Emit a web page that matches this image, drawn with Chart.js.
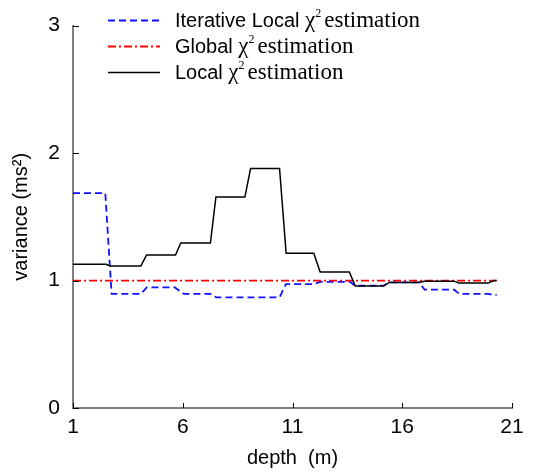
<!DOCTYPE html>
<html>
<head>
<meta charset="utf-8">
<script src="https://cdn.jsdelivr.net/npm/chart.js@4/dist/chart.umd.min.js"></script>
<style>
  body { margin: 0; background: #ffffff; }
  canvas { display: block; }
</style>
</head>
<body>
<canvas id="myChart" width="552" height="476"></canvas>
<script>
// depth ticks and variance ticks
var depthTicks = [1, 6, 11, 16, 21];
var varianceTicks = [0, 1, 2, 3];

// iterative local chi2 estimation (blue dashed)
var iterDepth = [1, 2.47, 2.76, 4.09, 4.36, 5.64, 6.05, 7.26, 7.53, 10.41, 10.7, 11.97, 12.26, 13.62, 13.85, 15.15, 15.41, 16.77, 17.02, 18.36, 18.6, 19.91, 20.18, 20.3];
var iterVar = [1.686, 1.686, 0.895, 0.895, 0.946, 0.946, 0.895, 0.895, 0.868, 0.868, 0.972, 0.972, 0.99, 0.99, 0.96, 0.96, 0.985, 0.985, 0.928, 0.928, 0.895, 0.895, 0.887, 0.887];

// global chi2 estimation (red dash-dot)
var globalDepth = [1, 20.3];
var globalVar = [1.0, 1.0];

// local chi2 estimation (black solid)
var localDepth = [1, 2.5, 2.7, 4.09, 4.35, 5.67, 5.91, 7.26, 7.51, 8.83, 9.09, 10.41, 10.71, 11.97, 12.26, 13.59, 13.86, 15.15, 15.41, 16.77, 17.0, 18.36, 18.59, 19.91, 20.18, 20.3];
var localVar = [1.127, 1.127, 1.114, 1.114, 1.20, 1.20, 1.294, 1.294, 1.655, 1.655, 1.879, 1.879, 1.214, 1.214, 1.067, 1.067, 0.957, 0.957, 0.985, 0.985, 0.995, 0.995, 0.98, 0.98, 1.0, 1.0];

function pts(xs, ys) {
  var out = [];
  for (var i = 0; i < xs.length; i++) out.push({x: xs[i], y: ys[i]});
  return out;
}

// short ticks pointing into the plot
var innerTicks = {
  id: 'innerTicks',
  afterDatasetsDraw: function(chart) {
    var ctx = chart.ctx;
    var a = chart.chartArea;
    var xs = chart.scales.x, ys = chart.scales.y;
    ctx.save();
    ctx.strokeStyle = '#000000';
    ctx.lineWidth = 1;
    ctx.beginPath();
    xs.ticks.forEach(function(t) {
      var px = Math.round(xs.getPixelForValue(t.value)) + 0.5;
      ctx.moveTo(px, a.bottom);
      ctx.lineTo(px, a.bottom - 5);
    });
    ys.ticks.forEach(function(t) {
      var py = Math.round(ys.getPixelForValue(t.value)) + 0.5;
      ctx.moveTo(a.left, py);
      ctx.lineTo(a.left + 6, py);
    });
    ctx.stroke();
    ctx.restore();
  }
};

// legend with mixed sans / serif text and a superscript
var chiLegend = {
  id: 'chiLegend',
  afterDraw: function(chart) {
    var ctx = chart.ctx;
    var rows = [
      {ds: 0, pre: 'Iterative Local ', y: 20},
      {ds: 1, pre: 'Global ', y: 46},
      {ds: 2, pre: 'Local ', y: 72}
    ];
    ctx.save();
    rows.forEach(function(r) {
      var d = chart.data.datasets[r.ds];
      ctx.strokeStyle = d.borderColor;
      ctx.lineWidth = d.borderWidth;
      ctx.setLineDash(d.borderDash || []);
      ctx.beginPath();
      ctx.moveTo(108, r.y + 0.5);
      ctx.lineTo(160, r.y + 0.5);
      ctx.stroke();
      ctx.setLineDash([]);

      var x = 175;
      ctx.fillStyle = '#000000';
      ctx.textBaseline = 'alphabetic';
      ctx.font = '20px "Liberation Sans", Arial, sans-serif';
      ctx.fillText(r.pre, x, r.y + 7);
      x += ctx.measureText(r.pre).width;
      ctx.font = '23px "Liberation Serif", "Times New Roman", serif';
      ctx.fillText('\u03c7', x, r.y + 7);
      x += ctx.measureText('\u03c7').width;
      ctx.font = '12px "Liberation Serif", "Times New Roman", serif';
      ctx.fillText('2', x, r.y - 3);
      x += ctx.measureText('2').width + 3;
      ctx.font = '23px "Liberation Serif", "Times New Roman", serif';
      ctx.fillText('estimation', x, r.y + 7);
    });
    ctx.restore();
  }
};

function one() {
  var ctx = document.getElementById('myChart').getContext('2d');
  var sans = '"Liberation Sans", Arial, sans-serif';
  var config = {
    type: 'line',
    data: {
      datasets: [{
        label: 'Iterative Local \u03c7\u00b2 estimation',
        data: pts(iterDepth, iterVar),
        borderColor: '#1010ff',
        borderWidth: 1.8,
        borderDash: [7, 4],
        order: 2
      }, {
        label: 'Global \u03c7\u00b2 estimation',
        data: pts(globalDepth, globalVar),
        borderColor: '#ff0000',
        borderWidth: 1.8,
        borderDash: [8, 3, 2, 3],
        order: 1
      }, {
        label: 'Local \u03c7\u00b2 estimation',
        data: pts(localDepth, localVar),
        borderColor: '#000000',
        borderWidth: 1.5,
        order: 0
      }]
    },
    options: {
      responsive: false,
      animation: false,
      devicePixelRatio: 1,
      layout: { padding: { top: 20, right: 40, left: 0, bottom: 0 } },
      elements: { point: { radius: 0 }, line: { tension: 0 } },
      plugins: { legend: { display: false }, tooltip: { enabled: false } },
      scales: {
        x: {
          type: 'linear',
          min: 1,
          max: 21,
          afterBuildTicks: function(s) { s.ticks = depthTicks.map(function(v) { return {value: v}; }); },
          afterFit: function(s) { s.height = 68; },
          grid: { display: false, drawTicks: false },
          border: { display: true, color: '#808080', width: 2 },
          ticks: { color: '#000000', font: { family: sans, size: 21 }, padding: 7, maxRotation: 0 },
          title: { display: true, text: 'depth  (m)', color: '#000000', font: { family: sans, size: 20 }, padding: { top: 0, bottom: 6 } }
        },
        y: {
          min: 0,
          max: 3,
          afterBuildTicks: function(s) { s.ticks = varianceTicks.map(function(v) { return {value: v}; }); },
          afterFit: function(s) { s.width = 73; },
          grid: { display: false, drawTicks: false },
          border: { display: true, color: '#808080', width: 2 },
          ticks: { color: '#000000', font: { family: sans, size: 21 }, padding: 13 },
          title: { display: true, text: 'variance (ms\u00b2)', color: '#000000', font: { family: sans, size: 20 }, padding: { top: 9, bottom: 0 } }
        }
      }
    },
    plugins: [innerTicks, chiLegend]
  };
  var myChart = new Chart(ctx, config);
}

window.onload = function() {
  one();
};
</script>
</body>
</html>
